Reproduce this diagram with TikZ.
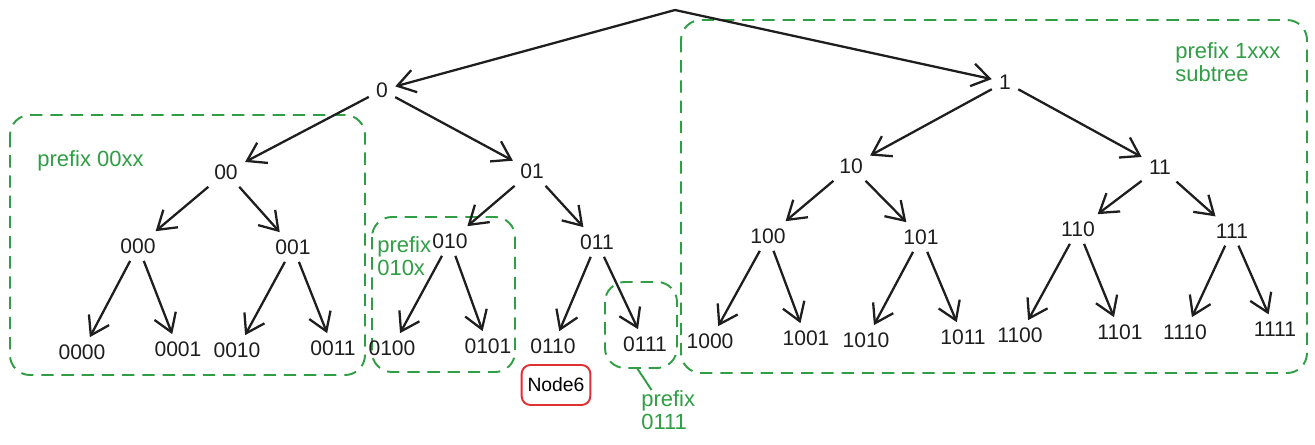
\documentclass[tikz,border=0pt]{standalone}
\usepackage{fontspec}
\setmainfont{Liberation Sans}
\usepackage{xcolor}
\definecolor{grpgreen}{HTML}{2F9E44}
\definecolor{markred}{HTML}{E03131}
\definecolor{inkblack}{HTML}{1E1E1E}
\usetikzlibrary{arrows.meta}

\begin{document}
\begin{tikzpicture}[x=0.02cm, y=-0.02cm,
    bit/.style={text=inkblack, inner sep=4pt, font=\fontsize{12}{14}\selectfont},
    edge/.style={draw=inkblack, line width=1.3pt, -{Straight Barb[length=10pt,width=13pt,line width=1.3pt]}},
    grp/.style={draw=grpgreen, line width=1.1pt, dash pattern=on 7pt off 4.5pt, rounded corners=0.4cm},
    grptext/.style={text=grpgreen, align=left, anchor=north west, inner sep=0pt, font=\fontsize{12.5}{13.5}\selectfont}]
            \useasboundingbox (0,0) rectangle (1315,444);

            % Groups
            \draw[grp] (10,115) rectangle (365,375);
            \draw[grp] (372,217) rectangle (515,372);
            \draw[grp] (605,282) rectangle (677,368);
            \draw[grp] (681,20) rectangle (1307,373);
            \coordinate (b0111) at (637,368);

            % Root and first levels
            \coordinate (top) at (675,10);
            \node[bit] (n0) at (382,90) {0};
            \node[bit] (n1) at (1005,82) {1};
            \node[bit] (n00) at (226,172) {00};
            \node[bit] (n01) at (532,171) {01};
            \node[bit] (n10) at (851,166) {10};
            \node[bit] (n11) at (1160,167) {11};

            % Third level
            \node[bit] (n000) at (138,246) {000};
            \node[bit] (n001) at (293,247) {001};
            \node[bit] (n010) at (450,241) {010};
            \node[bit] (n011) at (597,242) {011};
            \node[bit] (n100) at (768,236) {100};
            \node[bit] (n101) at (921,237) {101};
            \node[bit] (n110) at (1078,229) {110};
            \node[bit] (n111) at (1232,231) {111};

            % Leaves
            \node[bit] (n0000) at (82,352) {0000};
            \node[bit] (n0001) at (178,349) {0001};
            \node[bit] (n0010) at (237,350) {0010};
            \node[bit] (n0011) at (333,348) {0011};
            \node[bit] (n0100) at (392,348) {0100};
            \node[bit] (n0101) at (488,346) {0101};
            \node[bit] (n0110) at (553,346) {0110};
            \node[bit] (n0111) at (645,344) {0111};
            \node[bit] (n1000) at (710,341) {1000};
            \node[bit] (n1001) at (806,338) {1001};
            \node[bit] (n1010) at (866,340) {1010};
            \node[bit] (n1011) at (963,337) {1011};
            \node[bit] (n1100) at (1020,335) {1100};
            \node[bit] (n1101) at (1120,332) {1101};
            \node[bit] (n1110) at (1185,332) {1110};
            \node[bit] (n1111) at (1275,329) {1111};

            % Edges
            \draw[edge] (top) -- (n0);
            \draw[edge] (top) -- (n1);
            \draw[edge] (n0) -- (n00);
            \draw[edge] (n0) -- (n01);
            \draw[edge] (n1) -- (n10);
            \draw[edge] (n1) -- (n11);
            \draw[edge] (n00) -- (n000);
            \draw[edge] (n00) -- (n001);
            \draw[edge] (n01) -- (n010);
            \draw[edge] (n01) -- (n011);
            \draw[edge] (n10) -- (n100);
            \draw[edge] (n10) -- (n101);
            \draw[edge] (n11) -- (n110);
            \draw[edge] (n11) -- (n111);
            \draw[edge] (n000) -- (n0000);
            \draw[edge] (n000) -- (n0001);
            \draw[edge] (n001) -- (n0010);
            \draw[edge] (n001) -- (n0011);
            \draw[edge] (n010) -- (n0100);
            \draw[edge] (n010) -- (n0101);
            \draw[edge] (n011) -- (n0110);
            \draw[edge] (n011) -- (n0111);
            \draw[edge] (n100) -- (n1000);
            \draw[edge] (n100) -- (n1001);
            \draw[edge] (n101) -- (n1010);
            \draw[edge] (n101) -- (n1011);
            \draw[edge] (n110) -- (n1100);
            \draw[edge] (n110) -- (n1101);
            \draw[edge] (n111) -- (n1110);
            \draw[edge] (n111) -- (n1111);

            % Group labels
            \node[grptext] (l00xx) at (37,150) {prefix 00xx};
            \node[grptext] (l010x) at (377,236) {prefix\\010x};
            \node[grptext] (l1xxx) at (1175,42) {prefix 1xxx\\subtree};
            \node[grptext] (l0111) at (641,390) {prefix\\0111};
            \draw[draw=grpgreen, line width=1.1pt] (b0111) -- ([xshift=6pt]l0111.north west);

            % Marked node
            \node[draw=markred, line width=1.1pt, rounded corners=5pt, minimum width=1.36cm, minimum height=0.8cm, font=\fontsize{11}{13}\selectfont] (node6) at (556,385) {Node6};
        \end{tikzpicture}
\end{document}
